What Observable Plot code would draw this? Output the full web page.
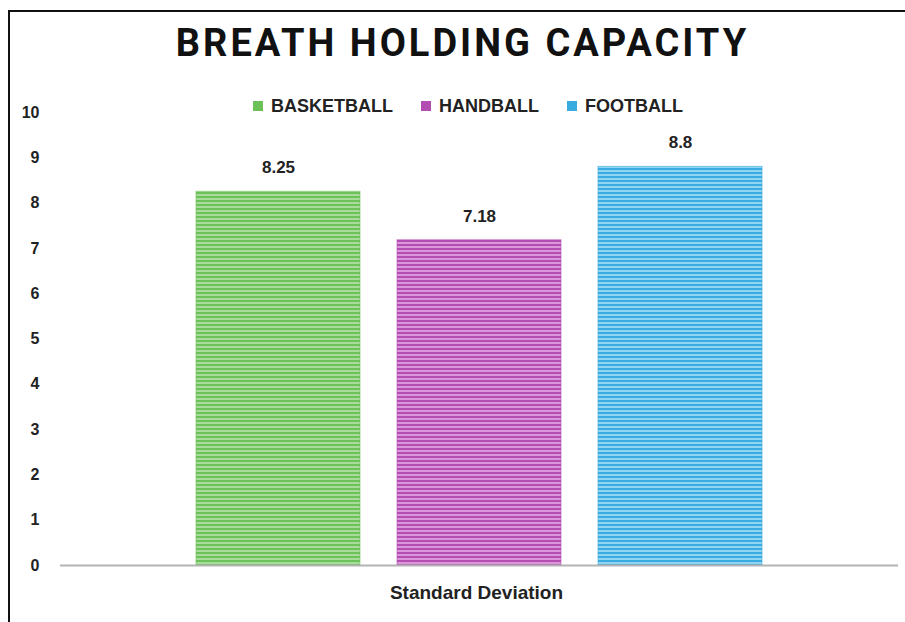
<!DOCTYPE html>
<html>
<head>
<meta charset="utf-8">
<script src="https://cdn.jsdelivr.net/npm/d3@7"></script>
<script src="https://cdn.jsdelivr.net/npm/@observablehq/plot@0.6"></script>
<style>
  html, body { margin: 0; padding: 0; background: #ffffff; }
  #page { position: relative; width: 905px; height: 622px; overflow: hidden; background: #ffffff; }
  #frame { position: absolute; left: 8px; top: 10px; right: -4px; bottom: -4px;
           border-top: 2px solid #111; border-left: 2px solid #111; }
  #title { position: absolute; left: 0; width: 925px; top: 21px; text-align: center;
           font-family: Roboto, "Liberation Sans", sans-serif; font-weight: 700;
           font-size: 38px; letter-spacing: 3px; color: #111; line-height: 44px; }
  #legend { position: absolute; left: 0; width: 936px; top: 96px; text-align: center;
            font-family: "Liberation Sans", Arial, sans-serif; font-weight: 700;
            font-size: 18px; color: #222; line-height: 20px; }
  #legend span.item { display: inline-block; margin: 0 14px; }
  #legend span.sw { display: inline-block; width: 10px; height: 10px; margin-right: 8px; vertical-align: 1px; }
  #chart { position: absolute; left: 0; top: 0; }
</style>
</head>
<body>
<div id="page">
  <svg width="0" height="0" style="position:absolute">
    <defs id="patterns"></defs>
  </svg>
  <div id="frame"></div>
  <div id="chart"></div>
  <div id="title">BREATH HOLDING CAPACITY</div>
  <div id="legend"></div>
</div>
<script>
// Breath holding capacity, standard deviation by sport
const sports = ["BASKETBALL", "HANDBALL", "FOOTBALL"];
const values = [8.25, 7.18, 8.8];
const groupLabel = "Standard Deviation";
const yTicks = [0, 1, 2, 3, 4, 5, 6, 7, 8, 9, 10];

// stripe colours per sport: [dark, light]
const stripeColors = {
  BASKETBALL: ["#6cc158", "#a9dc9a"],
  HANDBALL: ["#b24db2", "#dc96d9"],
  FOOTBALL: ["#38ace0", "#92d5f2"]
};

// horizontal stripe patterns
const defs = d3.select("#patterns");
sports.forEach((s, i) => {
  const [dark, light] = stripeColors[s];
  const p = defs.append("pattern")
    .attr("id", "stripe-" + i)
    .attr("patternUnits", "userSpaceOnUse")
    .attr("width", 8).attr("height", 4);
  p.append("rect").attr("width", 8).attr("height", 2).attr("fill", dark);
  p.append("rect").attr("y", 2).attr("width", 8).attr("height", 2).attr("fill", light);
});

const data = sports.map((s, i) => ({sport: s, value: values[i], pattern: `url(#stripe-${i})`, edge: stripeColors[s][0]}));

const chart = Plot.plot({
  width: 905,
  height: 622,
  marginTop: 112,
  marginBottom: 57,
  marginLeft: 60,
  marginRight: 7,
  style: {background: "transparent", fontFamily: "'Liberation Sans', Arial, sans-serif"},
  x: {domain: sports, range: [159, 799], padding: 0.184, axis: null},
  y: {domain: [0, 10], ticks: yTicks, tickSize: 0, tickPadding: 21, label: null,
      tickFormat: d => String(d)},
  color: {type: "identity"},
  marks: [
    Plot.axisY({ticks: yTicks, tickSize: 0, tickPadding: 21, label: null,
      fontSize: 16, fontWeight: "bold", fill: "#222"}),
    Plot.barY(data, {x: "sport", y: "value", fill: "pattern", stroke: "edge", strokeWidth: 1, strokeOpacity: 0.6}),
    Plot.ruleY([0], {stroke: "#b3b3b3", strokeWidth: 2}),
    Plot.text(data, {x: "sport", y: "value", text: d => String(d.value), dy: -24,
      fontSize: 17, fontWeight: "bold", fill: "#222"}),
    Plot.text([groupLabel], {frameAnchor: "bottom", text: d => d, dx: -3, dy: 33,
      fontSize: 19, fontWeight: "bold", fill: "#222", style: {letterSpacing: "0.6px"}})
  ]
});
document.getElementById("chart").appendChild(chart);

// legend
const legend = d3.select("#legend");
sports.forEach(s => {
  const item = legend.append("span").attr("class", "item");
  item.append("span").attr("class", "sw").style("background", stripeColors[s][0]);
  item.append("span").text(s);
});
</script>
</body>
</html>
